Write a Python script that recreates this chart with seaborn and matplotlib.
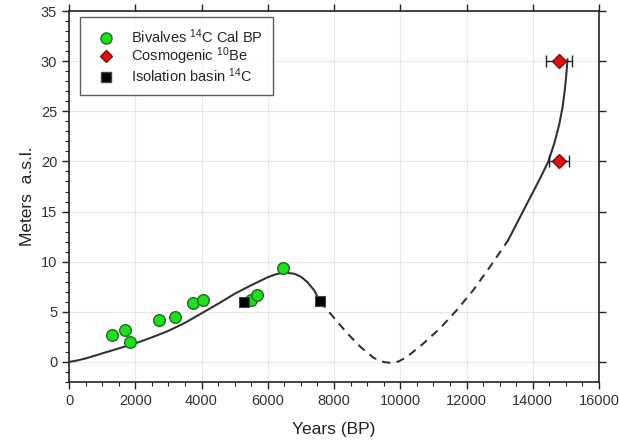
import matplotlib
matplotlib.use('Agg')
import matplotlib.pyplot as plt
from matplotlib.lines import Line2D
from matplotlib.ticker import MultipleLocator
import pandas as pd
import seaborn as sns

# Bivalves 14C Cal BP
bivalve_years = [1290, 1680, 1840, 2720, 3200, 3730, 4040, 5490, 5680, 6450]
bivalve_m = [2.65, 3.2, 1.98, 4.15, 4.5, 5.9, 6.22, 6.15, 6.7, 9.35]

# Isolation basin 14C
basin_years = [5290, 7570]
basin_m = [6.0, 6.05]

# Cosmogenic 10Be (with age uncertainty)
be_years = [14790, 14780]
be_m = [30.0, 20.0]
be_err = [380, 300]

# relative sea level curve
curve_early_years = [0, 250, 500, 750, 1000, 1500, 2000, 2500, 3000, 3500, 4000,
                     4500, 5000, 5500, 6000, 6250, 6500, 6800, 7000, 7200, 7400, 7570]
curve_early_m = [0, 0.15, 0.35, 0.6, 0.85, 1.35, 1.85, 2.45, 3.1, 3.9, 4.85,
                 5.8, 6.8, 7.65, 8.45, 8.75, 8.92, 8.8, 8.5, 7.95, 7.15, 6.05]
curve_gap_years = [7570, 8000, 8400, 8800, 9200, 9500, 9700, 9950, 10200, 10700,
                   11200, 11700, 12200, 12700, 13250]
curve_gap_m = [6.05, 4.4, 2.85, 1.5, 0.4, 0.0, -0.1, 0.05, 0.5, 1.85,
               3.35, 5.15, 7.15, 9.45, 12.1]
curve_late_years = [13250, 13500, 13750, 14000, 14250, 14470, 14650, 14800,
                    14900, 14970, 15020, 15050]
curve_late_m = [12.1, 13.7, 15.3, 16.9, 18.5, 20.0, 21.8, 23.7,
                25.4, 27.2, 28.9, 30.2]

sns.set_style('white')
plt.rcParams['font.family'] = ['Liberation Sans', 'DejaVu Sans']
plt.rcParams['mathtext.default'] = 'regular'

fig = plt.figure(figsize=(6.19, 4.48), dpi=100)
ax = fig.add_axes([0.1115, 0.1473, 0.8562, 0.8281])

line_color = '#333333'
sns.lineplot(x=curve_early_years, y=curve_early_m, sort=False, ax=ax,
             color=line_color, linewidth=1.5, zorder=2)
sns.lineplot(x=curve_gap_years, y=curve_gap_m, sort=False, ax=ax,
             color=line_color, linewidth=1.5, linestyle=(0, (4, 3)), zorder=2)
sns.lineplot(x=curve_late_years, y=curve_late_m, sort=False, ax=ax,
             color=line_color, linewidth=1.5, zorder=2)

bivalves = pd.DataFrame({'years': bivalve_years, 'm': bivalve_m})
basins = pd.DataFrame({'years': basin_years, 'm': basin_m})

green, green_edge = '#22dd22', '#1a6e1a'
red, red_edge = '#dd1111', '#7a0a0a'

sns.scatterplot(data=bivalves, x='years', y='m', ax=ax, marker='o', s=70,
                color=green, edgecolor=green_edge, linewidth=1.0, zorder=4)
ax.errorbar(be_years, be_m, xerr=be_err, fmt='D', color=red,
            markeredgecolor=red_edge, markersize=7, ecolor='#222222',
            elinewidth=1.0, capsize=4, capthick=1.0, zorder=4)
sns.scatterplot(data=basins, x='years', y='m', ax=ax, marker='s', s=45,
                color='black', edgecolor='#444444', linewidth=0.8, zorder=5)

ax.set_xlim(0, 16000)
ax.set_ylim(-2, 35)
ax.xaxis.set_major_locator(MultipleLocator(2000))
ax.xaxis.set_minor_locator(MultipleLocator(500))
ax.yaxis.set_major_locator(MultipleLocator(5))
ax.yaxis.set_minor_locator(MultipleLocator(1))
ax.grid(True, which='major', color='#e8e8e8', linewidth=0.8)
ax.set_axisbelow(True)

ax.tick_params(which='both', direction='out', bottom=True, left=True,
               labelsize=10.5, colors='#222222', labelcolor='#333333')
ax.tick_params(which='major', length=5, width=1.0, top=True, right=True)
ax.tick_params(which='minor', length=3, width=0.8, top=False, right=False)
for sp in ax.spines.values():
    sp.set_color('#222222')
    sp.set_linewidth(1.2)

ax.set_xlabel('Years (BP)', fontsize=12.5, color='#222222', labelpad=10)
ax.set_ylabel('Meters  a.s.l.', fontsize=12.5, color='#222222', labelpad=4)

handles = [
    Line2D([], [], linestyle='none', marker='o', markersize=8,
           markerfacecolor=green, markeredgecolor=green_edge),
    Line2D([], [], linestyle='none', marker='D', markersize=6.5,
           markerfacecolor=red, markeredgecolor=red_edge),
    Line2D([], [], linestyle='none', marker='s', markersize=6.5,
           markerfacecolor='black', markeredgecolor='#444444'),
]
labels = ['Bivalves $^{14}$C Cal BP', 'Cosmogenic $^{10}$Be', 'Isolation basin $^{14}$C']
leg = ax.legend(handles, labels, loc='upper left', bbox_to_anchor=(0.012, 0.995),
                fontsize=10.5, frameon=True, fancybox=False, edgecolor='#333333',
                borderpad=0.7, handletextpad=0.6, labelspacing=-0.05,
                borderaxespad=0.3, handlelength=2.2)
leg.get_frame().set_linewidth(1.0)

fig.savefig('out.png', dpi=100)
